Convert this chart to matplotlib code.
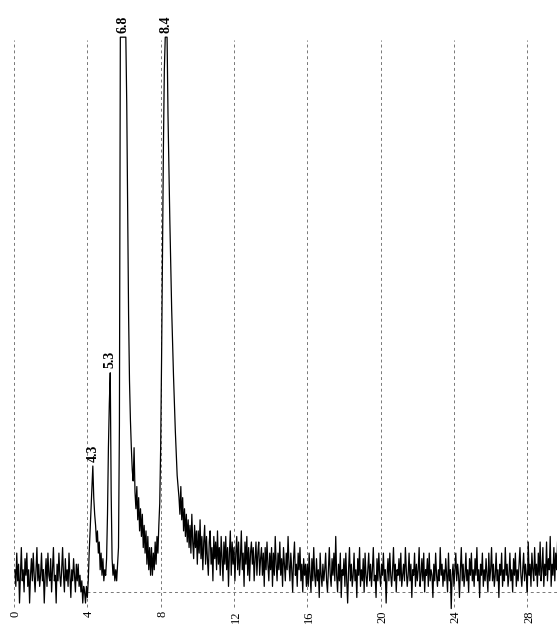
import numpy as np
import matplotlib
matplotlib.use("Agg")
import matplotlib.pyplot as plt

plt.rcParams["font.family"] = ["Liberation Serif", "DejaVu Serif"]

STEP = 0.05  # sampling interval of the trace (min)

# detector signal (arbitrary units, flat top = 100)
baseline_pre = [
    4, 1, 7, 2, 5, -2, 3, 8, 2,
    4, 0, 6, 3, 7, 1, 4, -2, 3, 6,
    2, 7, 3, 0, 4, 8, 2, 5, 1, 3,
    7, 2, 4, -2, 3, 6, 1, 7, 3, 2,
    6, 0, 4, 8, 2, 3, -2, 5, 2, 7,
    3, 1, 4, 8, 3, 0, 6, 2, 4, 1,
    7, 3, -1, 4, 2, 6, 3, 0, 5, 2,
    5, 1, 3, 0, 2, -2, 1, 0, -2, 1,
]
# starts at 4.00 min
peak_zone = [
    -1, 2, 7, 11, 15, 19, 22.7, 17, 14, 12,
    9, 11, 7, 9, 4, 7, 3, 6, 2, 4,
    3, 6, 14, 26, 34, 39.5, 18, 6, 3, 5,
    2, 4, 2, 5, 8, 30, 100, 100, 100, 100,
    100, 100, 100, 88, 70, 50, 38, 31, 26, 22,
    20, 26, 18, 15, 19, 13, 17, 11, 15, 10,
    14, 8, 12, 7, 11, 5, 10, 4, 8, 3,
    8, 3, 7, 4, 9, 5, 10, 7, 12, 16,
    26, 42, 62, 80, 94, 100, 100, 100, 86, 76,
    67, 59, 51, 45, 39, 34, 29, 25, 21, 19,
]
tail_zone = [
    17, 14, 19, 13, 17, 11, 15, 10, 14, 9,
    13, 8, 12, 7, 14, 9, 6, 12, 8, 11,
    5, 11, 7, 13, 6, 10, 4, 9, 12, 5,
    10, 6, 3, 9, 11, 5, 8, 2, 10, 6,
    9, 4, 11, 5, 8, 3, 10, 6, 2, 9,
    5, 10, 4, 8, 1, 7, 11, 3, 9, 5,
    8, 2, 7, 10, 4, 9, 3, 6, 11, 4,
    7, 1, 9, 5, 10, 3, 8, 2, 7, 9,
    5, 8, 2, 6, 9, 3, 7, 9, 3, 6,
    8, 3, 7, 1, 8, 4, 9, 5, 2, 7,
    4, 8, 1, 7, 3, 10, 5, 2, 7, 4,
    9, 3, 6, 1, 8, 5, 2, 7, 4, 10,
    5, 2, 7, 4, 0, 6, 9, 3, 5, 1,
    7, 4, 8, 2, 5, 0, 6, 3, 5, 1,
]
late_zone = [
    5, 1, 7, 3, 0, 6, 2, 8, 3, 1,
    6, 2, 4, -1, 7, 3, 1, 5, 2, 4,
    7, 2, 0, 4, 8, 3, 1, 6, 3, 7,
    2, 10, 3, 0, 5, 2, 7, -1, 4, 3,
    6, 1, 7, 2, -2, 4, 8, 2, 5, 1,
    3, 7, 2, 4, -1, 6, 3, 8, 1, 4,
    2, 6, 0, 7, 3, 1, 4, 7, 2, 5,
    1, 4, 8, 2, 3, -1, 6, 2, 7, 3,
    1, 5, 3, 7, 2, 4, -2, 3, 6, 2,
    7, 3, 1, 4, 8, 2, 5, 0, 4, 3,
    6, 2, 7, 1, 3, 5, 2, 8, 4, 1,
    3, 7, 2, 5, -1, 4, 3, 7, 1, 5,
    2, 4, 8, 1, 3, 6, 2, 7, 0, 4,
    3, 6, 1, 7, 2, 4, 3, -1, 5, 2,
    7, 3, 1, 4, 2, 8, 3, 5, 1, 4,
    2, 6, 3, 0, 7, 2, 4, -3, 3, 5,
    1, 4, 7, 2, 5, 3, -1, 4, 8, 2,
    5, 1, 3, 7, 2, 4, 0, 6, 3, 7,
    2, 4, 1, 6, 3, 8, 2, 4, -1, 5,
    3, 7, 1, 4, 2, 6, 3, 0, 7, 2,
    4, 8, 2, 5, 1, 3, 7, 2, 4, -1,
    5, 3, 7, 1, 4, 2, 8, 3, 5, 1,
    3, 7, 2, 4, 0, 6, 3, 7, 1, 4,
    2, 5, 8, 3, 1, 4, 7, 2, 5, 3,
    0, 9, 3, 5, 1, 7, 4, 2, 8, 3,
    5, 1, 7, 3, 9, 2, 4, 8, 1, 5,
    3, 9, 2, 6, 4, 10, 1, 5, 3, 8,
    2, 7, 4, 9,
]

peak_times = [4.3, 5.25, 5.95, 8.3]
peak_labels = ["4.3", "5.3", "6.8", "8.4"]
peak_heights = [22.7, 39.5, 100, 100]

grid_ticks = [0, 4, 8, 12, 16, 20, 24, 28]
tick_labels = ["0", "4", "8", "12", "16", "20", "24", "28"]

# time axis per segment, anchored so the peak zone starts at 4.00 min
signal = np.array(baseline_pre + peak_zone + tail_zone + late_zone, dtype=float)
t0 = 4.0 - STEP * len(baseline_pre)
time = t0 + STEP * np.arange(len(signal))

fig = plt.figure(figsize=(5.57, 6.28), dpi=100)
ax = fig.add_axes([0, 0, 1, 1])
ax.set_xlim(-0.764, 29.62)
ax.set_ylim(-6.5, 106.7)
ax.axis("off")

ax.vlines(grid_ticks, -2.7, 99.5, colors="#777777", linestyles=(0, (3, 3)), lw=0.7)
ax.hlines(0, 4, 29.62, colors="#777777", linestyles=(0, (3, 3)), lw=0.7)

ax.plot(time, signal, color="black", lw=0.9)

for t, lab, h in zip(peak_times, peak_labels, peak_heights):
    ax.text(t, h + 0.8, lab, rotation=90, ha="center", va="bottom",
            fontsize=10, fontweight="bold")

for t, lab in zip(grid_ticks, tick_labels):
    ax.text(t + 0.1, -3.4, lab, rotation=90, ha="center", va="top", fontsize=9)

fig.savefig("out.png", dpi=100)
